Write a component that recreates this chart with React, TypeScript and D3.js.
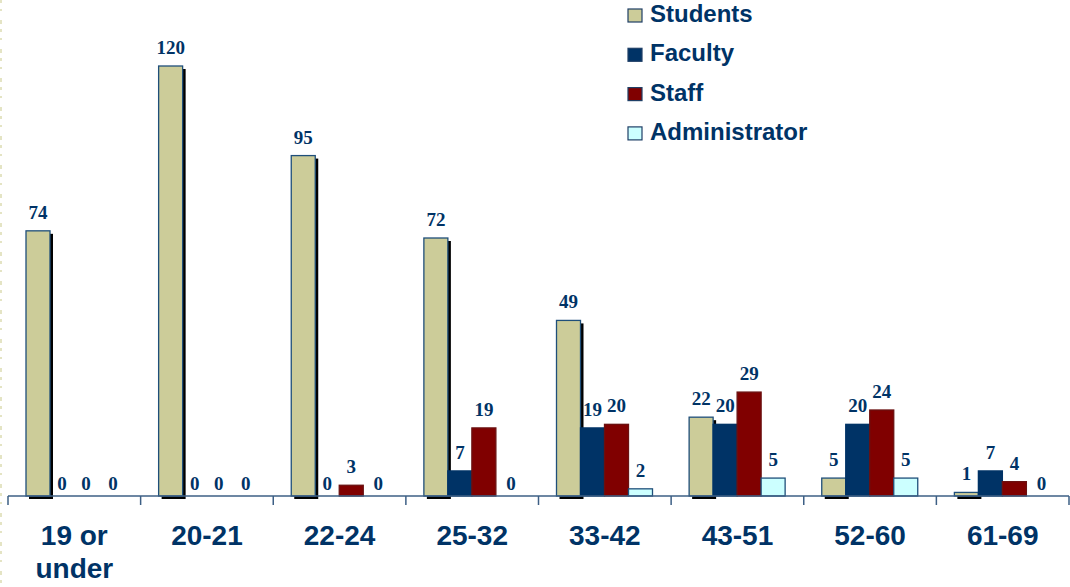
import React from "react";
import * as d3 from "d3";

const categories = ["19 or under", "20-21", "22-24", "25-32", "33-42", "43-51", "52-60", "61-69"];
const seriesNames = ["Students", "Faculty", "Staff", "Administrator"];
const students = [74, 120, 95, 72, 49, 22, 5, 1];
const faculty = [0, 0, 0, 7, 19, 20, 20, 7];
const staff = [0, 0, 3, 19, 20, 29, 24, 4];
const administrator = [0, 0, 0, 0, 2, 5, 5, 0];
const seriesColors = ["#CCCC99", "#003366", "#800000", "#CCFFFF"];
const categoryLines = [["19 or", "under"], ["20-21"], ["22-24"], ["25-32"], ["33-42"], ["43-51"], ["52-60"], ["61-69"]];

const W = 1070;
const H = 587;
const baseY = 496;
const textColor = "#003366";

export default function App() {
  const seriesValues = [students, faculty, staff, administrator];
  const x0 = d3.scaleBand<string>().domain(categories).range([8, 1069]).padding(0);
  const bw = x0.bandwidth();
  const x1 = d3.scaleBand<string>().domain(seriesNames).range([18, 18 + 96]).padding(0);
  const y = d3.scaleLinear().domain([0, 120]).range([baseY, 66]);

  const bars: React.ReactNode[] = [];
  const shadows: React.ReactNode[] = [];
  const labels: React.ReactNode[] = [];
  categories.forEach((c, ci) => {
    seriesNames.forEach((s, si) => {
      const v = seriesValues[si][ci];
      const bx = (x0(c) as number) + (x1(s) as number);
      const w = x1.bandwidth();
      const top = y(v);
      if (v > 0) {
        if (si === 0) {
          shadows.push(
            <rect key={`sh-${ci}`} x={bx + 3} y={top + 3} width={w} height={baseY - top} fill="#000" />
          );
        }
        bars.push(
          <rect
            key={`b-${ci}-${si}`}
            x={bx}
            y={top}
            width={w}
            height={baseY - top}
            fill={seriesColors[si]}
            stroke={si === 1 ? "#003366" : si === 2 ? "#6a1010" : "#1f4f7a"}
            strokeWidth={1.3}
          />
        );
      }
      labels.push(
        <text
          key={`l-${ci}-${si}`}
          x={bx + w / 2 + (v === 0 && si === 3 ? 3 : 0)}
          y={v === 0 ? baseY - 6 : top - 12}
          textAnchor="middle"
          fontFamily="'Liberation Serif', 'Times New Roman', serif"
          fontWeight="bold"
          fontSize={19}
          fill={textColor}
        >
          {v}
        </text>
      );
    });
  });

  const ticks = d3.range(categories.length + 1).map((i) => 8 + i * bw);

  return (
    <svg width={W} height={H} style={{ position: "absolute", left: 0, top: 0 }}>
      <rect x={0} y={0} width={W} height={H} fill="#fff" />
      <line x1={1} y1={0} x2={1} y2={H} stroke="#e4e4c4" strokeWidth={2} strokeDasharray="3 6 2 9 4 5" />
      {shadows}
      {bars}
      <line x1={8} y1={baseY} x2={1069} y2={baseY} stroke="#3d5f85" strokeWidth={1.5} />
      {ticks.map((t, i) => (
        <line key={`t-${i}`} x1={t} y1={baseY} x2={t} y2={baseY + 9} stroke="#3d5f85" strokeWidth={1.5} />
      ))}
      {labels}
      {categories.map((c, ci) => (
        <text
          key={`c-${ci}`}
          x={(x0(c) as number) + bw / 2}
          y={545}
          textAnchor="middle"
          fontFamily="'Liberation Sans', Arial, sans-serif"
          fontWeight="bold"
          fontSize={28}
          fill={textColor}
        >
          {categoryLines[ci].map((ln, li) => (
            <tspan key={li} x={(x0(c) as number) + bw / 2} dy={li === 0 ? 0 : 33}>
              {ln}
            </tspan>
          ))}
        </text>
      ))}
      {seriesNames.map((s, si) => (
        <g key={`lg-${si}`} transform={`translate(628, ${22 + si * 39.3})`}>
          <rect x={0} y={-13} width={14} height={13} fill={seriesColors[si]} stroke="#1f3f66" strokeWidth={1.2} />
          <text
            x={22}
            y={0}
            fontFamily="'Liberation Sans', Arial, sans-serif"
            fontWeight="bold"
            fontSize={24}
            fill={textColor}
          >
            {s}
          </text>
        </g>
      ))}
    </svg>
  );
}
